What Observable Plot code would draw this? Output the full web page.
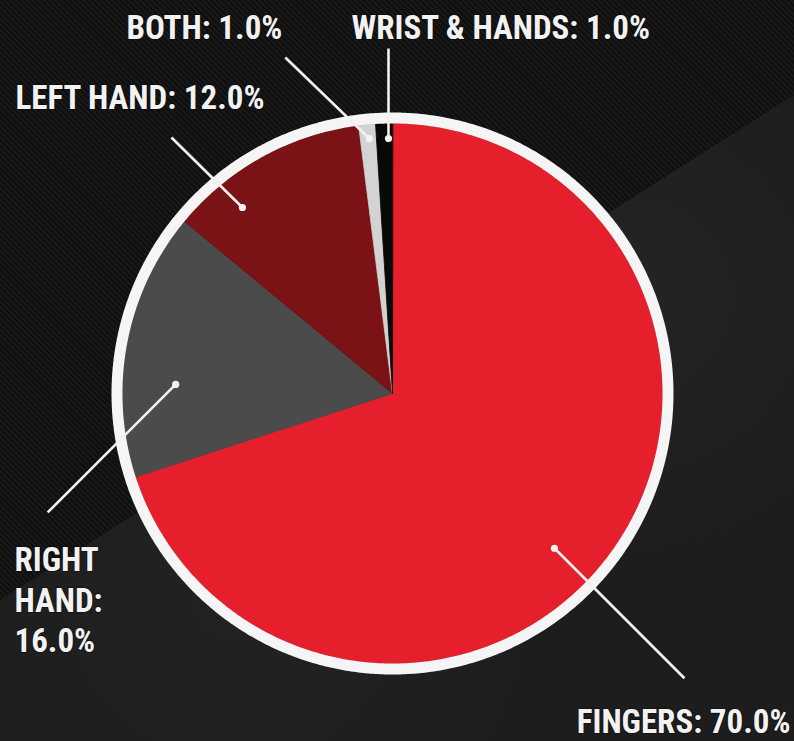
<!DOCTYPE html>
<html>
<head>
<meta charset="utf-8">
<script src="https://cdn.jsdelivr.net/npm/d3@7"></script>
<script src="https://cdn.jsdelivr.net/npm/@observablehq/plot@0.6"></script>
<style>
  html, body { margin: 0; padding: 0; background: #141414; }
  #wrap { position: relative; width: 794px; height: 741px; overflow: hidden;
    background: repeating-linear-gradient(45deg, #0f0f0f 0px, #0f0f0f 2px, #181818 2px, #181818 4px); }
  #lower { position: absolute; left: 0; top: 0; width: 794px; height: 741px;
    background:
      radial-gradient(circle at 30% 80%, rgba(255,255,255,0.025), rgba(0,0,0,0) 40%),
      radial-gradient(circle at 80% 40%, rgba(255,255,255,0.03), rgba(0,0,0,0) 35%),
      #1d1d1d;
    clip-path: polygon(794px 95px, 794px 741px, 0px 741px, 0px 600px); }
  #chart { position: absolute; left: 0; top: 0; }
  #chart svg { background: transparent; overflow: visible; }
  #chart text { paint-order: stroke; }
</style>
</head>
<body>
<div id="wrap"><div id="lower"></div><div id="chart"></div></div>
<script>
// ---- data ----
const categories = ["Fingers", "Right hand", "Left hand", "Both", "Wrist & hands"];
const values = [70.0, 16.0, 12.0, 1.0, 1.0];
const labels = ["FINGERS: 70.0%", "RIGHT\nHAND:\n16.0%", "LEFT HAND: 12.0%", "BOTH: 1.0%", "WRIST & HANDS: 1.0%"];
const colors = ["#e61f2c", "#4b4b4b", "#7a1216", "#d3d3d3", "#090909"];

// ---- layout (pixels, separate from data) ----
const W = 794, H = 741, CX = 392, CY = 393, R = 270, RING = 11;
const labelLayout = {
  "Fingers":       {dotAngle: 133.7, dotR: 224, ldx: 130, ldy: 130, tx: 790, ty: 703.5, anchor: "end"},
  "Right hand":    {dotAngle: 272.4, dotR: 217, ldx: -128, ldy: 128, tx: 14, ty: 542, anchor: "start"},
  "Left hand":     {dotAngle: 321.1, dotR: 239, ldx: -71, ldy: -70, tx: 15, ty: 80, anchor: "start"},
  "Both":          {dotAngle: 354.8, dotR: 256, ldx: -84, ldy: -81, tx: 126, ty: 9.5, anchor: "start"},
  "Wrist & hands": {dotAngle: 359.1, dotR: 255, ldx: 0, ldy: -90, tx: 351, ty: 9.5, anchor: "start"}
};

const rows = categories.map((name, i) => ({name, value: values[i], label: labels[i]}));
const arcs = d3.pie().sort(null).value(d => d.value).startAngle(0).endAngle(2 * Math.PI)(rows);

// slice outlines (center + arc points), coordinates centred on pie, y downward
const slicePts = [];
for (const a of arcs) {
  slicePts.push({name: a.data.name, x: 0, y: 0});
  const n = Math.max(2, Math.ceil((a.endAngle - a.startAngle) / (Math.PI / 360)));
  for (let k = 0; k <= n; k++) {
    const t = a.startAngle + (a.endAngle - a.startAngle) * k / n;
    slicePts.push({name: a.data.name, x: R * Math.sin(t), y: -R * Math.cos(t)});
  }
}
const ringR = R + RING / 2;
const ringPts = d3.range(0, 721).map(k => {
  const t = k / 720 * 2 * Math.PI;
  return {x: ringR * Math.sin(t), y: -ringR * Math.cos(t)};
});

const ann = rows.map(d => {
  const L = labelLayout[d.name];
  const t = L.dotAngle * Math.PI / 180;
  const x1 = L.dotR * Math.sin(t), y1 = -L.dotR * Math.cos(t);
  return {name: d.name, label: d.label, x1, y1, x2: x1 + L.ldx, y2: y1 + L.ldy,
          tx: L.tx - CX, ty: L.ty - CY, anchor: L.anchor};
});

const font = "'Liberation Sans Narrow', 'Arial Narrow', 'Roboto Condensed', 'DejaVu Sans Condensed', sans-serif";

const chart = Plot.plot({
  width: W, height: H,
  margin: 0,
  x: {domain: [-CX, W - CX], range: [0, W], axis: null},
  y: {domain: [-CY, H - CY], range: [0, H], axis: null},
  color: {domain: categories, range: colors},
  style: {background: "transparent"},
  marks: [
    Plot.line(slicePts, {x: "x", y: "y", z: "name", fill: "name", stroke: "name", strokeWidth: 0.8, curve: "linear-closed"}),
    Plot.line(ringPts, {x: "x", y: "y", stroke: "#f5f5f5", strokeWidth: RING, curve: "linear-closed"}),
    Plot.link(ann, {x1: "x1", y1: "y1", x2: "x2", y2: "y2", stroke: "#f3f1ee", strokeWidth: 2.6}),
    Plot.dot(ann, {x: "x1", y: "y1", r: 3.6, fill: "#f5f3f0", stroke: null}),
    ...["start", "end"].map(anc => Plot.text(ann.filter(d => d.anchor === anc), {
      x: "tx", y: "ty", text: "label", textAnchor: anc, lineAnchor: "top",
      fontSize: 33, fontWeight: "bold", fontFamily: font, lineHeight: 1.23,
      fill: "#f2f2f2", stroke: "#000", strokeWidth: 2, strokeOpacity: 0.35
    }))
  ]
});
document.getElementById("chart").appendChild(chart);
</script>
</body>
</html>
